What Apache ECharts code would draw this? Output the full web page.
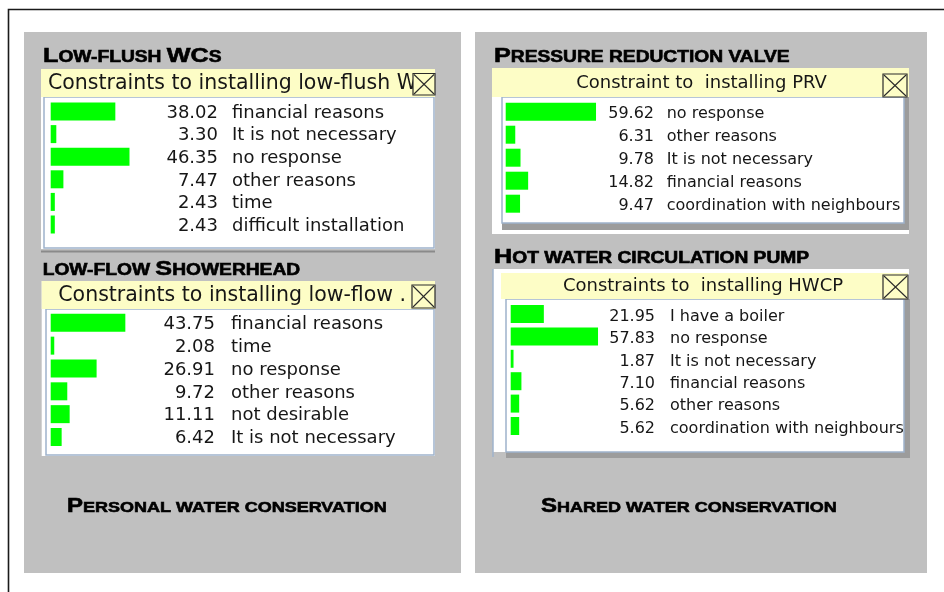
<!DOCTYPE html>
<html>
<head>
<meta charset="utf-8">
<title>Constraints to installing water saving devices</title>
<script src="https://cdn.jsdelivr.net/npm/echarts@6/dist/echarts.min.js"></script>
<style>
  html, body { margin: 0; padding: 0; background: #ffffff; }
  #main { width: 944px; height: 592px; }
</style>
</head>
<body>
<div id="main"></div>
<script>
// ---- survey answers (share of respondents, %) ----
const wcReasons = ['financial reasons', 'It is not necessary', 'no response', 'other reasons', 'time', 'difficult installation'];
const wcShares = [38.02, 3.30, 46.35, 7.47, 2.43, 2.43];

const showerReasons = ['financial reasons', 'time', 'no response', 'other reasons', 'not desirable', 'It is not necessary'];
const showerShares = [43.75, 2.08, 26.91, 9.72, 11.11, 6.42];

const prvReasons = ['no response', 'other reasons', 'It is not necessary', 'financial reasons', 'coordination with neighbours'];
const prvShares = [59.62, 6.31, 9.78, 14.82, 9.47];

const hwcpReasons = ['I have a boiler', 'no response', 'It is not necessary', 'financial reasons', 'other reasons', 'coordination with neighbours'];
const hwcpShares = [21.95, 57.83, 1.87, 7.10, 5.62, 5.62];

// ---- headings ----
const sectionTitles = ['Low-flush WCs', 'low-flow Showerhead', 'Pressure reduction valve', 'Hot water circulation pump'];
const groupTitles = ['Personal water conservation', 'Shared water conservation'];
const captions = ['Constraints to installing low-flush W', 'Constraints to installing low-flow .', 'Constraint to  installing PRV', 'Constraints to  installing HWCP'];

// ---- styling ----
const PANEL_GRAY = '#c0c0c0';
const CAPTION_YELLOW = '#fdfdc6';
const LIST_BORDER = '#9fb3cc';
const SHADE_GRAY = '#9c9c9c';
const BAR_GREEN = '#00ff00';
const TEXT_DARK = '#161616';
const UI_FONT = '"DejaVu Sans", Tahoma, Verdana, sans-serif';
const HEAD_FONT = '"Liberation Sans", Arial, Helvetica, sans-serif';

// layout of the four list windows
const listLayouts = [
  { reasons: wcReasons, shares: wcShares, grid: { left: 50.7, top: 100.2, width: 170, height: 135.6 }, numRight: 218, labelLeft: 232, fontSize: 18, textDrop: 1.6 },
  { reasons: showerReasons, shares: showerShares, grid: { left: 50.7, top: 311.4, width: 170.6, height: 137 }, numRight: 215, labelLeft: 231, fontSize: 18, textDrop: 1.6 },
  { reasons: prvReasons, shares: prvShares, grid: { left: 505.7, top: 100.2, width: 151.5, height: 115 }, numRight: 654, labelLeft: 666.7, fontSize: 16, textDrop: 2.6 },
  { reasons: hwcpReasons, shares: hwcpShares, grid: { left: 510.7, top: 302.8, width: 151, height: 134.4 }, numRight: 655, labelLeft: 670, fontSize: 16, textDrop: 2.6 }
];

const windowFrames = [
  { bg: [41, 69, 394, 180], shade: null, bottomLine: [41, 251.5, 435], list: [44, 97, 390, 151], bar: [41, 69, 394, 28],
    caption: { x: 48, align: 'left', size: 20.5 }, close: [413, 73.5, 22, 21.5], sideLine: null },
  { bg: [41.7, 281, 393.3, 175], shade: null, bottomLine: null, list: [46, 309, 388, 146], bar: [41.7, 281, 393.3, 28],
    caption: { x: 58.3, align: 'left', size: 20.5 }, close: [412, 285, 23, 23], sideLine: null },
  { bg: [492, 68, 417, 166], shade: [502, 97, 407, 133], bottomLine: null, list: [502, 97, 402, 126], bar: [492, 68, 417, 29],
    caption: { x: 701.5, align: 'center', size: 18 }, close: [883, 74, 24, 23], sideLine: null },
  { bg: [493, 269, 416, 183], shade: [506, 299, 404, 159], bottomLine: null, list: [506, 299, 398, 153], bar: [501, 273, 407, 26],
    caption: { x: 703, align: 'center', size: 18 }, close: [883, 275, 25, 24], sideLine: [493, 269, 457] }
];

const sectionTitlePos = [[43, 62], [42.7, 275], [494, 62], [494, 263]];
const groupTitlePos = [[67, 512], [541, 512]];

// ---- helpers ----
const measureCtx = document.createElement('canvas').getContext('2d');

// Bold small-caps heading: capitals drawn large, lower case drawn as small capitals.
function smallCaps(text, x, baseline, bigSize, smallSize, stretch) {
  const runs = [];
  for (const ch of text) {
    const big = ch !== ch.toLowerCase();
    const last = runs[runs.length - 1];
    if (last && last.big === big) last.s += ch; else runs.push({ big: big, s: ch });
  }
  const children = [];
  let cx = 0;
  runs.forEach(function (r) {
    const size = r.big ? bigSize : smallSize;
    measureCtx.font = 'bold ' + size + 'px ' + HEAD_FONT;
    measureCtx.textBaseline = 'middle';
    const drop = measureCtx.measureText('H').actualBoundingBoxDescent;
    const t = r.s.toUpperCase();
    children.push({
      type: 'text', x: cx, y: -drop, silent: true,
      style: { text: t, fontSize: size, fontWeight: 'bold', fontFamily: HEAD_FONT, fill: '#000', stroke: '#000', lineWidth: 0.6, align: 'left', verticalAlign: 'middle' }
    });
    cx += measureCtx.measureText(t).width;
  });
  return { type: 'group', x: x, y: baseline, scaleX: stretch, scaleY: 1, children: children };
}

function rect(r, style) {
  return { type: 'rect', silent: true, shape: { x: r[0], y: r[1], width: r[2], height: r[3] }, style: style };
}

// ---- static drawing: panels, frame, list windows, headings ----
const graphics = [];
graphics.push(rect([24, 32, 437, 541], { fill: PANEL_GRAY }));
graphics.push(rect([475, 32, 452, 541], { fill: PANEL_GRAY }));
graphics.push({ type: 'polyline', silent: true, shape: { points: [[8.5, 592], [8.5, 9.5], [944, 9.5]] }, style: { stroke: '#1a1a1a', lineWidth: 1.6, fill: null } });

windowFrames.forEach(function (w, i) {
  graphics.push(rect(w.bg, { fill: '#ffffff' }));
  if (w.shade) graphics.push(rect(w.shade, { fill: SHADE_GRAY }));
  if (w.bottomLine) {
    graphics.push({ type: 'line', silent: true, shape: { x1: w.bottomLine[0], y1: w.bottomLine[1], x2: w.bottomLine[2], y2: w.bottomLine[1] }, style: { stroke: '#8a8a8a', lineWidth: 2 } });
  }
  if (w.sideLine) {
    graphics.push({ type: 'line', silent: true, shape: { x1: w.sideLine[0], y1: w.sideLine[1], x2: w.sideLine[0], y2: w.sideLine[2] }, style: { stroke: LIST_BORDER, lineWidth: 1.5 } });
  }
  graphics.push(rect(w.list, { fill: '#ffffff', stroke: LIST_BORDER, lineWidth: 1.5 }));
  graphics.push(rect(w.bar, { fill: CAPTION_YELLOW }));
  graphics.push({
    type: 'text', silent: true, x: w.caption.x, y: w.bar[1] + w.bar[3] / 2 + 0.5,
    style: { text: captions[i], fontSize: w.caption.size, fontFamily: UI_FONT, fill: TEXT_DARK, align: w.caption.align, verticalAlign: 'middle' }
  });
  const c = w.close;
  graphics.push(rect(c, { fill: CAPTION_YELLOW, stroke: '#2a2a2a', lineWidth: 1.2 }));
  graphics.push({ type: 'line', silent: true, shape: { x1: c[0] + 1, y1: c[1] + 1, x2: c[0] + c[2] - 1, y2: c[1] + c[3] - 1 }, style: { stroke: '#2a2a2a', lineWidth: 1.1 } });
  graphics.push({ type: 'line', silent: true, shape: { x1: c[0] + c[2] - 1, y1: c[1] + 1, x2: c[0] + 1, y2: c[1] + c[3] - 1 }, style: { stroke: '#2a2a2a', lineWidth: 1.1 } });
});

sectionTitles.forEach(function (t, i) {
  graphics.push(smallCaps(t, sectionTitlePos[i][0], sectionTitlePos[i][1], 21, 16, 1.2));
});
groupTitles.forEach(function (t, i) {
  graphics.push(smallCaps(t, groupTitlePos[i][0], groupTitlePos[i][1], 20, 15, 1.2));
});

// ---- bar lists ----
const grids = [], xAxes = [], yAxes = [], series = [];
listLayouts.forEach(function (p, i) {
  grids.push({ left: p.grid.left, top: p.grid.top, width: p.grid.width, height: p.grid.height, containLabel: false, outerBoundsMode: 'none', show: false });
  xAxes.push({ gridIndex: i, type: 'value', min: 0, max: 100, show: false });
  yAxes.push({
    gridIndex: i, type: 'category', data: p.reasons, inverse: true, position: 'right',
    axisLine: { show: false }, axisTick: { show: false }, splitLine: { show: false },
    axisLabel: {
      interval: 0, margin: p.labelLeft - (p.grid.left + p.grid.width),
      fontFamily: UI_FONT, fontSize: p.fontSize, color: TEXT_DARK, align: 'left',
      // a short line box hung from the row centre nudges the text slightly below it
      verticalAlign: 'top', lineHeight: p.textDrop * 2
    }
  });
  series.push({
    type: 'bar', xAxisIndex: i, yAxisIndex: i, data: p.shares, barWidth: 18, silent: true,
    itemStyle: { color: BAR_GREEN },
    label: {
      show: true, position: [p.numRight - p.grid.left, '50%'], align: 'right', verticalAlign: 'middle',
      offset: [0, p.textDrop],
      formatter: function (d) { return d.value.toFixed(2); },
      fontFamily: UI_FONT, fontSize: p.fontSize, color: TEXT_DARK
    }
  });
});

const chart = echarts.init(document.getElementById('main'), null, { renderer: 'canvas' });
chart.setOption({
  backgroundColor: '#ffffff',
  animation: false,
  graphic: { elements: graphics },
  grid: grids,
  xAxis: xAxes,
  yAxis: yAxes,
  series: series
});
</script>
</body>
</html>
